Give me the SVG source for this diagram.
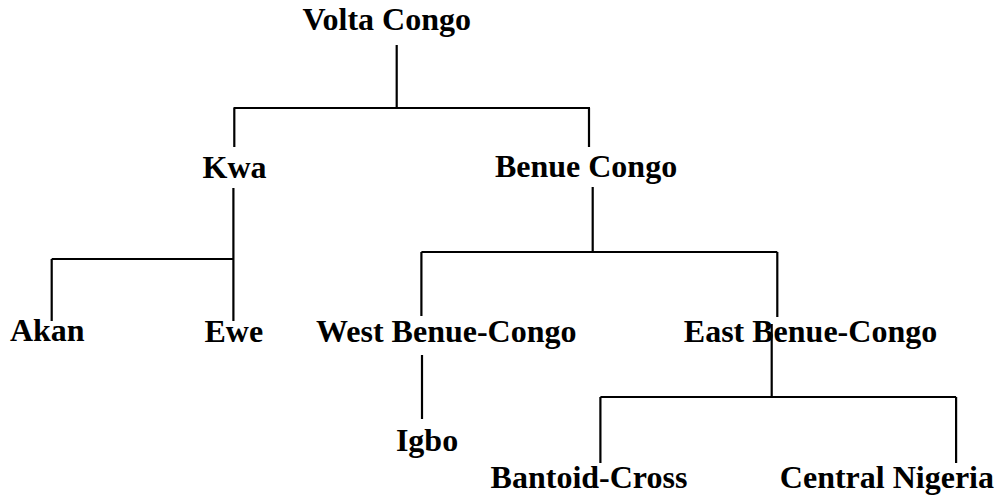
<svg xmlns="http://www.w3.org/2000/svg" width="997" height="496" viewBox="0 0 997 496">
<style>
.lbl{font-family:"Liberation Serif","Times New Roman",serif;font-weight:bold;font-size:32px;fill:#000;text-anchor:middle}
.ln{stroke:#000;stroke-width:2.2;fill:none;stroke-linecap:butt}
</style>
<rect width="997" height="496" fill="#fff"/>
<g id="connectors" class="ln">
<path d="M396.7,45 V108 M233.5,108 H590 M234.3,108 V147 M589,108 V147"/>
<path d="M233.4,188 V321 M51.7,259 H233.4 M51.7,259 V321"/>
<path d="M592.7,187 V252 M421.4,252 H777.3 M421.4,252 V316 M777.3,252 V317"/>
<path d="M422,355 V419"/>
<path d="M771.7,324 V397 M600.4,397 H956.1 M600.4,397 V463 M956.1,397 V463"/>
</g>
<g id="volta-congo"><text class="lbl" x="386.7" y="30">Volta Congo</text></g>
<g id="kwa"><text class="lbl" x="234.5" y="178">Kwa</text></g>
<g id="benue-congo"><text class="lbl" x="586" y="177">Benue Congo</text></g>
<g id="akan"><text class="lbl" x="47.3" y="341">Akan</text></g>
<g id="ewe"><text class="lbl" x="233.8" y="342">Ewe</text></g>
<g id="west-benue-congo"><text class="lbl" x="446.3" y="342">West Benue-Congo</text></g>
<g id="east-benue-congo"><text class="lbl" x="810.5" y="342">East Benue-Congo</text></g>
<g id="igbo"><text class="lbl" x="427" y="451">Igbo</text></g>
<g id="bantoid-cross"><text class="lbl" x="589" y="488">Bantoid-Cross</text></g>
<g id="central-nigeria"><text class="lbl" x="886.9" y="488">Central Nigeria</text></g>
</svg>
